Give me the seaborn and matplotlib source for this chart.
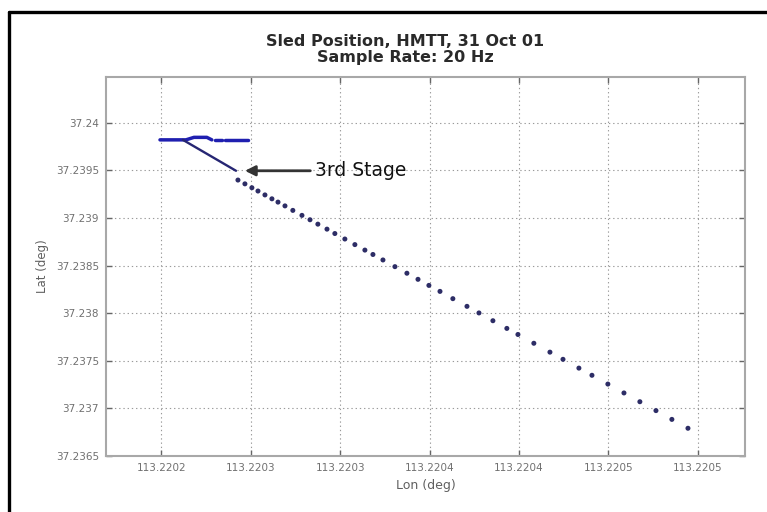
import matplotlib
matplotlib.use("Agg")
import matplotlib.pyplot as plt
from matplotlib.lines import Line2D
import pandas as pd
import seaborn as sns

# start of the run: cluster at the top left (drawn as lines, seg = piece of line)
start_lon = [113.2201992, 113.2202137, 113.2202182, 113.2202254, 113.2202282,
             113.2202299, 113.2202338,
             113.2202355, 113.2202484]
start_lat = [37.2398218, 37.2398218, 37.2398480, 37.2398480, 37.2398218,
             37.2398218, 37.2398218,
             37.2398218, 37.2398218]
start_seg = [0, 0, 0, 0, 0, 1, 1, 2, 2]

# branch running down to the 3rd stage
branch_lon = [113.2202120, 113.2202417]
branch_lat = [37.2398218, 37.2394969]

# 20 Hz samples after the 3rd stage
track_lon = [113.2202428, 113.2202467, 113.2202506, 113.2202540, 113.2202579,
             113.2202618, 113.2202652, 113.2202691, 113.2202735, 113.2202786,
             113.2202831, 113.2202875, 113.2202926, 113.2202970, 113.2203026,
             113.2203082, 113.2203138, 113.2203183, 113.2203239, 113.2203306,
             113.2203373, 113.2203435, 113.2203496, 113.2203558, 113.2203630,
             113.2203709, 113.2203776, 113.2203854, 113.2203932, 113.2203994,
             113.2204083, 113.2204173, 113.2204246, 113.2204335, 113.2204408,
             113.2204497, 113.2204587, 113.2204676, 113.2204766, 113.2204855,
             113.2204945]
track_lat = [37.2393994, 37.2393595, 37.2393187, 37.2392841, 37.2392432,
             37.2392023, 37.2391677, 37.2391279, 37.2390807, 37.2390283,
             37.2389822, 37.2389361, 37.2388837, 37.2388375, 37.2387799,
             37.2387212, 37.2386635, 37.2386174, 37.2385598, 37.2384895,
             37.2384204, 37.2383564, 37.2382925, 37.2382296, 37.2381531,
             37.2380724, 37.2380032, 37.2379214, 37.2378407, 37.2377768,
             37.2376845, 37.2375912, 37.2375158, 37.2374235, 37.2373481,
             37.2372558, 37.2371625, 37.2370703, 37.2369770, 37.2368847,
             37.2367914]

# 3rd stage arrow tip and label
stage3_point = (113.2202467, 37.2394969)
stage3_text = (113.2202859, 37.2394969)

lon_ticks = [113.2202, 113.22025, 113.2203, 113.22035, 113.2204, 113.22045, 113.2205]
lon_labels = ["113.2202", "113.2203", "113.2203", "113.2204", "113.2204", "113.2205", "113.2205"]
lat_ticks = [37.2365, 37.237, 37.2375, 37.238, 37.2385, 37.239, 37.2395, 37.24]
lat_labels = ["37.2365", "37.237", "37.2375", "37.238", "37.2385", "37.239", "37.2395", "37.24"]

sns.set_theme(style="white")
plt.rcParams['font.family'] = ['DejaVu Sans']

df_start = pd.DataFrame({"lon": start_lon, "lat": start_lat, "seg": start_seg})

fig = plt.figure(figsize=(7.67, 5.12), dpi=100)
ax = fig.add_axes([106 / 767, 56 / 512, 639 / 767, 379 / 512])

sns.lineplot(data=df_start, x="lon", y="lat", units="seg", estimator=None, sort=False,
             color="#1f1fb0", lw=2.5, ax=ax)
sns.lineplot(x=branch_lon, y=branch_lat, sort=False, estimator=None,
             color="#262673", lw=1.7, ax=ax)
sns.scatterplot(x=track_lon, y=track_lat, color="#2d2d66", s=13, marker="o",
                edgecolor="none", ax=ax)

ax.annotate("3rd Stage", xy=stage3_point, xytext=stage3_text,
            ha="left", va="center", fontsize=13.5, color="#111111",
            arrowprops=dict(arrowstyle="-|>", color="#333333", lw=2,
                            mutation_scale=15, shrinkA=1, shrinkB=0))

ax.set_xlim(113.220169, 113.2205264)
ax.set_ylim(37.2365, 37.2404822)
ax.set_xticks(lon_ticks)
ax.set_xticklabels(lon_labels)
ax.set_yticks(lat_ticks)
ax.set_yticklabels(lat_labels)

ax.grid(True, color="#9a9a9a", lw=0.8, linestyle=(0, (1.2, 2.6)))
ax.tick_params(direction="in", length=4, width=1, color="#666666",
               labelsize=7.5, labelcolor="#707070", top=True, right=True,
               bottom=True, left=True, pad=5)
for sp in ax.spines.values():
    sp.set_color("#a8a8a8")
    sp.set_linewidth(1.5)

ax.set_xlabel("Lon (deg)", fontsize=9, color="#606060", labelpad=4)
ax.set_ylabel("Lat (deg)", fontsize=8.5, color="#606060", labelpad=5)
ax.set_title("Sled Position, HMTT, 31 Oct 01\nSample Rate: 20 Hz",
             x=(405 - 106) / 639, pad=11, fontsize=11.5, fontweight="bold",
             color="#2a2a2a", linespacing=1.05)

# black frame on the top and left edges
fy = 1 - 12 / 512
fx = 9 / 767
fig.add_artist(Line2D([fx, fx], [0, fy], color="black", lw=2.4,
                      transform=fig.transFigure))
fig.add_artist(Line2D([fx, 1], [fy, fy], color="black", lw=2.4,
                      transform=fig.transFigure))

fig.savefig("out.png", dpi=100, facecolor="white")
